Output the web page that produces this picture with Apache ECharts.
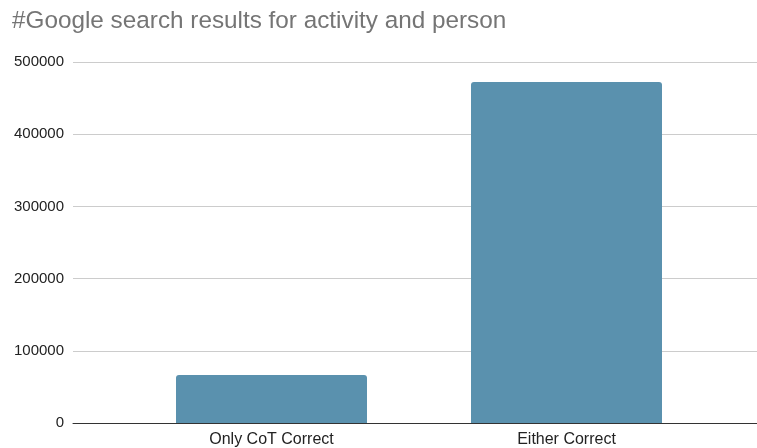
<!DOCTYPE html>
<html>
<head>
<meta charset="utf-8">
<script src="https://cdn.jsdelivr.net/npm/echarts@6/dist/echarts.min.js"></script>
<style>
  html, body { margin: 0; padding: 0; background: #fff; }
  #chart { width: 757px; height: 448px; }
</style>
</head>
<body>
<div id="chart"></div>
<script>
var categories = ["Only CoT Correct", "Either Correct"];
var searchResults = [66500, 472300];
var yTicks = [0, 100000, 200000, 300000, 400000, 500000];

var chart = echarts.init(document.getElementById("chart"));
var option = {
    animation: false,
    textStyle: { fontFamily: "Liberation Sans, Arial, sans-serif" },
    title: {
        text: "#Google search results for activity and person",
        left: 7, top: 4,
        textStyle: { fontSize: 24.3, fontWeight: "normal", color: "#757575" }
    },
    grid: [
        // background grid: gridlines, y labels and baseline span the full width
        { left: 73, right: 0, top: 62, bottom: 25, containLabel: false },
        // bars sit in a narrower plot area
        { left: 124, right: 43, top: 62, bottom: 25, containLabel: false }
    ],
    xAxis: [{
        gridIndex: 0,
        type: "value",
        min: 0, max: 1,
        axisLine: { show: true, onZero: true, lineStyle: { color: "#333", width: 1 } },
        axisTick: { show: false },
        axisLabel: { show: false },
        splitLine: { show: false }
    }, {
        gridIndex: 1,
        type: "category",
        data: categories,
        axisLine: { show: false },
        axisTick: { show: false },
        axisLabel: { color: "#222", fontSize: 16, margin: 9 }
    }],
    yAxis: [{
        gridIndex: 0,
        type: "value",
        min: yTicks[0], max: yTicks[yTicks.length - 1], interval: 100000,
        axisLine: { show: false },
        axisTick: { show: false },
        axisLabel: { color: "#222", fontSize: 15, margin: 9, formatter: function (v) { return String(v); } },
        splitLine: { lineStyle: { color: "#cccccc", width: 1 } }
    }, {
        gridIndex: 1,
        type: "value",
        min: yTicks[0], max: yTicks[yTicks.length - 1], interval: 100000,
        show: false,
        splitLine: { show: false }
    }],
    series: [{
        type: "bar",
        xAxisIndex: 1, yAxisIndex: 1,
        data: searchResults,
        barWidth: 191,
        itemStyle: { color: "#5a91ae", borderRadius: [3, 3, 0, 0] }
    }]
};
chart.setOption(option);
</script>
</body>
</html>
